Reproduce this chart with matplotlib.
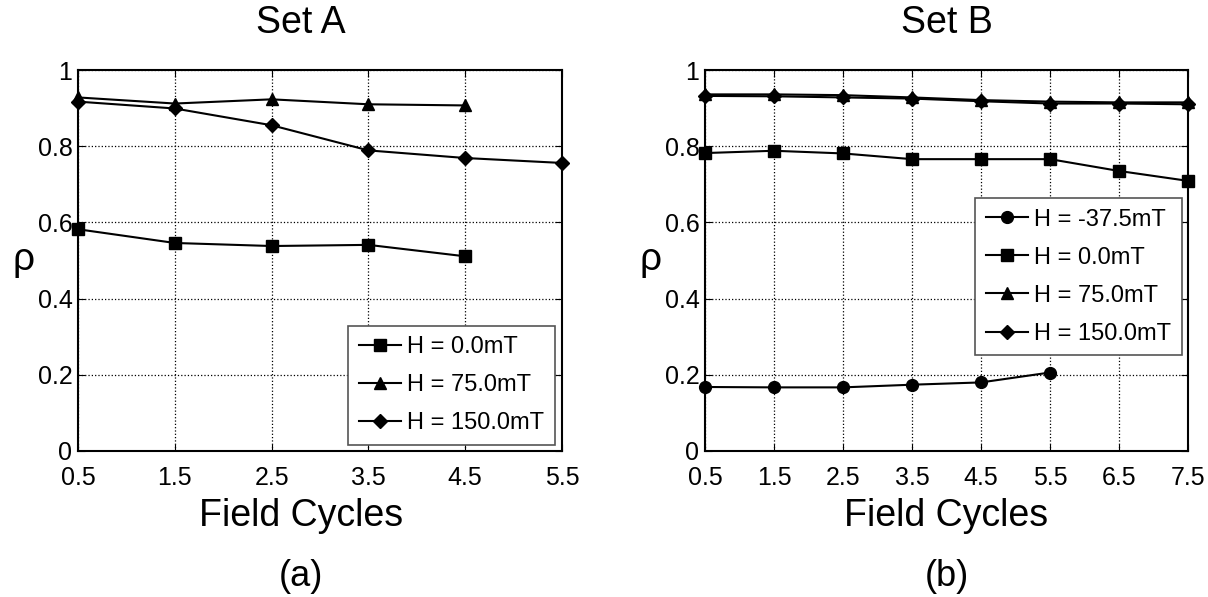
import matplotlib.pyplot as plt

plt.rcParams['font.family'] = ['Liberation Sans', 'DejaVu Sans']

# Set A
cycles_a = [0.5, 1.5, 2.5, 3.5, 4.5, 5.5]
rho_a_0 = [0.582, 0.546, 0.538, 0.541, 0.511]
rho_a_75 = [0.928, 0.912, 0.923, 0.910, 0.907]
rho_a_150 = [0.917, 0.899, 0.855, 0.789, 0.769, 0.756]

# Set B
cycles_b = [0.5, 1.5, 2.5, 3.5, 4.5, 5.5, 6.5, 7.5]
rho_b_m37 = [0.168, 0.167, 0.167, 0.174, 0.180, 0.206]
rho_b_0 = [0.782, 0.788, 0.781, 0.766, 0.766, 0.766, 0.735, 0.709]
rho_b_75 = [0.936, 0.936, 0.934, 0.928, 0.921, 0.917, 0.915, 0.915]
rho_b_150 = [0.932, 0.931, 0.928, 0.925, 0.918, 0.912, 0.912, 0.910]

fig = plt.figure(figsize=(12.08, 5.97), dpi=100)
# axes boxes in pixels: left 78..562 / 705..1188, top 70, bottom 451
ax1 = fig.add_axes([78 / 1208, 1 - 451 / 597, 484 / 1208, 381 / 597])
ax2 = fig.add_axes([705 / 1208, 1 - 451 / 597, 483 / 1208, 381 / 597])

style = dict(color='black', linewidth=1.5, markersize=8.5, clip_on=False)
dstyle = dict(color='black', linewidth=1.5, markersize=7, clip_on=False)

ax1.plot(cycles_a[:len(rho_a_0)], rho_a_0, marker='s', label='H = 0.0mT', **style)
ax1.plot(cycles_a[:len(rho_a_75)], rho_a_75, marker='^', label='H = 75.0mT', **style)
ax1.plot(cycles_a[:len(rho_a_150)], rho_a_150, marker='D', label='H = 150.0mT', **dstyle)

ax2.plot(cycles_b[:len(rho_b_m37)], rho_b_m37, marker='o', label='H = -37.5mT', **style)
ax2.plot(cycles_b, rho_b_0, marker='s', label='H = 0.0mT', **style)
ax2.plot(cycles_b, rho_b_75, marker='^', label='H = 75.0mT', **style)
ax2.plot(cycles_b, rho_b_150, marker='D', label='H = 150.0mT', **dstyle)

for ax, xs, title, tag, xc in [(ax1, cycles_a, 'Set A', '(a)', 0.46),
                               (ax2, cycles_b, 'Set B', '(b)', 0.5)]:
    ax.set_xlim(xs[0], xs[-1])
    ax.set_ylim(0, 1)
    ax.set_xticks(xs)
    ax.set_xticklabels([f'{x:g}' for x in xs])
    ax.set_yticks([0, 0.2, 0.4, 0.6, 0.8, 1.0])
    ax.set_yticklabels(['0', '0.2', '0.4', '0.6', '0.8', '1'])
    ax.tick_params(direction='in', length=5, labelsize=18, top=True, right=True)
    ax.tick_params(axis='x', pad=11)
    ax.tick_params(axis='y', pad=4)
    ax.grid(True, linestyle=':', color='black', linewidth=0.9)
    for sp in ax.spines.values():
        sp.set_linewidth(1.5)
    ax.set_title(title, fontsize=27, x=xc, y=(451 - 23) / 381, va='center', pad=0)
    ax.set_xlabel('Field Cycles', fontsize=27, va='center')
    ax.xaxis.set_label_coords(xc, (451 - 516) / 381)
    ax.set_ylabel('ρ', fontsize=28, rotation=0, va='center', ha='center')
    ax.yaxis.set_label_coords(-0.113, 0.5)
    ax.text(xc, (451 - 576) / 381, tag, transform=ax.transAxes, fontsize=26,
            ha='center', va='center')

leg_kw = dict(fontsize=17, fancybox=False, edgecolor='#555555', framealpha=1,
              handlelength=1.8, handletextpad=0.25, borderpad=0.45, labelspacing=0.68,
              borderaxespad=0)
ax1.legend(loc='lower right', bbox_to_anchor=(1 - 7 / 484, 6 / 381), **leg_kw)
ax2.legend(loc='upper right', bbox_to_anchor=(1 - 6 / 483, (451 - 198) / 381), **leg_kw)
for leg in [ax1.get_legend(), ax2.get_legend()]:
    leg.get_frame().set_linewidth(1.2)

fig.savefig('out.png', dpi=100)
